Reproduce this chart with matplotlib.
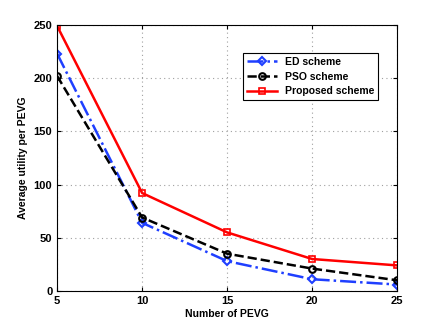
import matplotlib
matplotlib.use("Agg")
import matplotlib.pyplot as plt

# data
pevg = [5, 10, 15, 20, 25]
ed = [223, 64, 28, 11, 6]
pso = [202, 69, 35, 21, 10]
proposed = [249, 92, 55, 30, 24]

plt.rcParams['font.family'] = ['Liberation Sans', 'DejaVu Sans']
plt.rcParams['font.weight'] = 'bold'

fig = plt.figure(figsize=(4.36, 3.28), dpi=100)
ax = fig.add_axes([0.131, 0.113, 0.78, 0.811])

ax.plot(pevg, ed, color='#1f3fff', ls='-.', lw=1.8, marker='D', ms=4.2,
        mfc='none', mew=1.5, label='ED scheme')
ax.plot(pevg, pso, color='black', ls='--', lw=1.8, marker='o', ms=4.8,
        mfc='none', mew=1.5, label='PSO scheme')
ax.plot(pevg, proposed, color='red', ls='-', lw=1.8, marker='s', ms=4.8,
        mfc='none', mew=1.2, label='Proposed scheme')

ax.set_xlim(5, 25)
ax.set_ylim(0, 250)
ax.set_xticks(pevg)
ax.set_yticks([0, 50, 100, 150, 200, 250])
ax.grid(True, ls=(0, (1, 3)), color='#a0a0a0', lw=0.8)
ax.tick_params(direction='in', top=True, right=True, labelsize=8, length=3)
for lab in ax.get_xticklabels() + ax.get_yticklabels():
    lab.set_fontweight('bold')
for s in ax.spines.values():
    s.set_linewidth(0.8)

ax.set_xlabel('Number of PEVG', fontsize=7.5, fontweight='bold', labelpad=2)
ax.set_ylabel('Average utility per PEVG', fontsize=7.5, fontweight='bold', labelpad=4)

leg = ax.legend(loc='upper right', bbox_to_anchor=(0.96, 0.915), fontsize=7.5,
                fancybox=False, framealpha=1, edgecolor='black',
                handlelength=2.8, borderpad=0.4, labelspacing=0.45)
leg.get_frame().set_linewidth(0.8)

fig.savefig('out.png', dpi=100)
